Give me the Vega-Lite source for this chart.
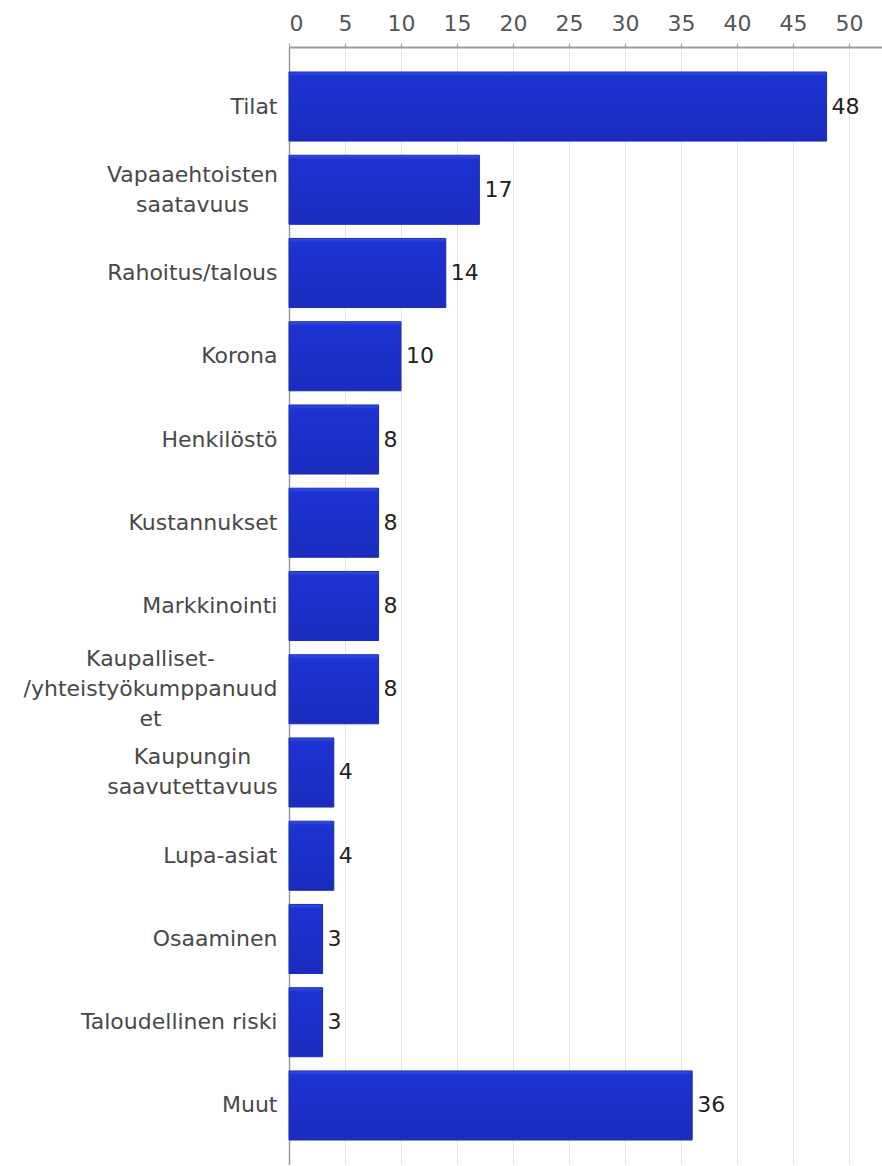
{
  "$schema": "https://vega.github.io/schema/vega-lite/v6.json",
  "autosize": "none",
  "padding": {"left": 289, "top": 47, "right": 0, "bottom": 0},
  "width": 593,
  "height": 1118,
  "background": "white",
  "data": {
    "values": [
      {"label": "Tilat", "count": 48},
      {"label": "Vapaaehtoisten|saatavuus", "count": 17},
      {"label": "Rahoitus/talous", "count": 14},
      {"label": "Korona", "count": 10},
      {"label": "Henkilöstö", "count": 8},
      {"label": "Kustannukset", "count": 8},
      {"label": "Markkinointi", "count": 8},
      {"label": "Kaupalliset-|/yhteistyökumppanuud|et", "count": 8},
      {"label": "Kaupungin|saavutettavuus", "count": 4},
      {"label": "Lupa-asiat", "count": 4},
      {"label": "Osaaminen", "count": 3},
      {"label": "Taloudellinen riski", "count": 3},
      {"label": "Muut", "count": 36}
    ]
  },
  "encoding": {
    "y": {
      "field": "label",
      "type": "nominal",
      "sort": null,
      "scale": {"paddingInner": 0.17, "paddingOuter": 0.3},
      "axis": {
        "title": null,
        "ticks": false,
        "labelFont": "DejaVu Sans",
        "labelFontSize": 22,
        "labelColor": "#484848",
        "labelLimit": 320,
        "labelLineHeight": 30,
        "labelBaseline": "middle",
        "labelExpr": "split(datum.value, '|')",
        "labelOffset": {"expr": "-(length(split(datum.value, '|')) - 1) * 15"},
        "labelAlign": {"expr": "indexof(datum.value, '|') >= 0 ? 'center' : 'right'"},
        "labelPadding": {"expr": "datum.value == 'Kaupalliset-|/yhteistyökumppanuud|et' ? 139 : indexof(datum.value, '|') >= 0 ? 97 : 12"},
        "domainColor": "#9a9a9a",
        "domainWidth": 1.5
      }
    },
    "x": {
      "field": "count",
      "type": "quantitative",
      "scale": {"domain": [0, 52.95], "nice": false},
      "axis": {
        "orient": "top",
        "title": null,
        "values": [0, 5, 10, 15, 20, 25, 30, 35, 40, 45, 50],
        "labelFont": "DejaVu Sans",
        "labelFontSize": 22,
        "labelColor": "#555555",
        "labelPadding": 8,
        "tickSize": 4,
        "tickColor": "#9a9a9a",
        "domainColor": "#9a9a9a",
        "domainWidth": 2,
        "gridColor": "#e6e6e6",
        "gridWidth": 1
      }
    }
  },
  "layer": [
    {
      "mark": {
        "type": "bar",
        "color": {
          "gradient": "linear",
          "x1": 0, "y1": 0, "x2": 0, "y2": 1,
          "stops": [
            {"offset": 0, "color": "#3550e0"},
            {"offset": 0.06, "color": "#1d33d2"},
            {"offset": 1, "color": "#1a2cbe"}
          ]
        },
        "stroke": "#1b2cb4",
        "strokeWidth": 1
      }
    },
    {
      "mark": {
        "type": "text",
        "align": "left",
        "baseline": "middle",
        "dx": 5,
        "font": "DejaVu Sans",
        "fontSize": 22,
        "color": "#222222"
      },
      "encoding": {"text": {"field": "count", "type": "quantitative"}}
    }
  ],
  "config": {"view": {"stroke": null}}
}
